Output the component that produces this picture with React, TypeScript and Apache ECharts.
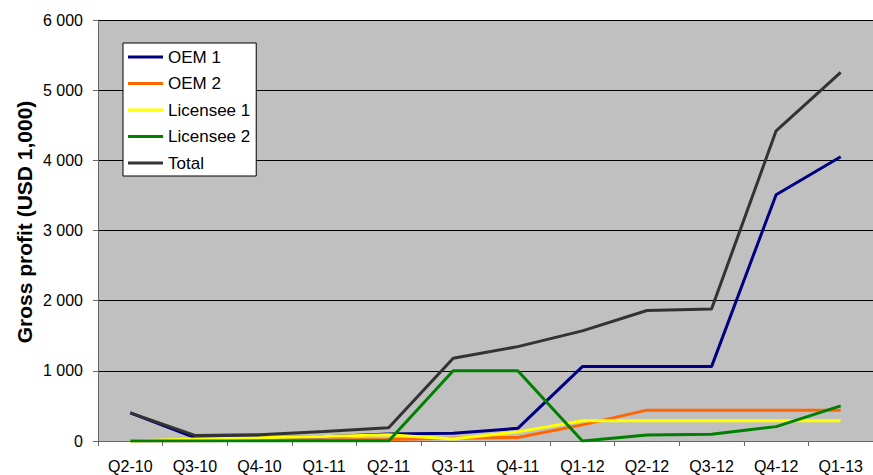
import React, { useEffect, useRef } from "react";
import * as echarts from "echarts";

const categories = ["Q2-10", "Q3-10", "Q4-10", "Q1-11", "Q2-11", "Q3-11", "Q4-11", "Q1-12", "Q2-12", "Q3-12", "Q4-12", "Q1-13"];
const oem1 = [400, 50, 45, 60, 100, 110, 180, 1060, 1060, 1060, 3510, 4050];
const oem2 = [0, 5, 10, 15, 20, 40, 50, 230, 440, 440, 440, 440];
const licensee1 = [0, 30, 45, 65, 90, 30, 130, 290, 290, 290, 290, 290];
const licensee2 = [0, 0, 0, 0, 0, 1000, 1000, 0, 85, 95, 205, 500];
const total = [400, 80, 90, 135, 190, 1180, 1345, 1570, 1860, 1880, 4420, 5255];
const yTicks = { min: 0, max: 6000, interval: 1000 };
const yTitle = "Gross profit (USD 1,000)";

export default function App() {
  const ref = useRef<HTMLDivElement>(null);
  useEffect(() => {
    if (!ref.current) return;
    const chart = echarts.init(ref.current, null, { renderer: "svg" });
    const mk = (name: string, data: number[], color: string) => ({
      name,
      type: "line",
      data,
      symbol: "none",
      lineStyle: { color, width: 3 },
      itemStyle: { color },
    });
    chart.setOption({
      animation: false,
      backgroundColor: "#ffffff",
      textStyle: { fontFamily: "Liberation Sans, Arial, sans-serif" },
      grid: {
        left: 98,
        top: 20,
        right: -5,
        bottom: 34,
        show: true,
        backgroundColor: "#C0C0C0",
        borderWidth: 0,
      },
      graphic: [
        {
          type: "text",
          x: 24,
          y: 222,
          rotation: Math.PI / 2,
          style: {
            text: yTitle,
            fontSize: 21,
            fontWeight: "bold",
            fontFamily: "Liberation Sans, Arial, sans-serif",
            fill: "#000",
            align: "center",
            verticalAlign: "middle",
          },
        },
      ],
      legend: {
        orient: "vertical",
        left: 123,
        top: 43,
        backgroundColor: "#ffffff",
        borderColor: "#000000",
        borderWidth: 1,
        borderRadius: 0,
        padding: [5, 6, 4, 5],
        itemWidth: 35,
        itemHeight: 3,
        itemGap: 8.5,
        icon: "rect",
        textStyle: { fontSize: 17, color: "#000", lineHeight: 18, fontFamily: "Liberation Sans, Arial, sans-serif" },
        data: ["OEM 1", "OEM 2", "Licensee 1", "Licensee 2", "Total"],
      },
      xAxis: {
        type: "category",
        data: categories,
        boundaryGap: true,
        axisLine: { lineStyle: { color: "#666666", width: 1 } },
        axisTick: { show: true, length: 5, lineStyle: { color: "#666666" } },
        axisLabel: { fontSize: 16, color: "#000", margin: 17 },
        splitLine: { show: false },
      },
      yAxis: {
        type: "value",
        min: yTicks.min,
        max: yTicks.max,
        interval: yTicks.interval,
        axisLine: { show: true, lineStyle: { color: "#666666", width: 1 } },
        axisTick: { show: true, length: 5, lineStyle: { color: "#666666" } },
        axisLabel: {
          fontSize: 16,
          color: "#000",
          margin: 15,
          formatter: (v: number) => String(v).replace(/\B(?=(\d{3})+(?!\d))/g, " "),
        },
        splitLine: { show: true, lineStyle: { color: "#000000", width: 1 } },
      },
      series: [
        mk("OEM 1", oem1, "#000080"),
        mk("OEM 2", oem2, "#FF6600"),
        mk("Licensee 1", licensee1, "#FFFF00"),
        mk("Licensee 2", licensee2, "#008000"),
        mk("Total", total, "#333333"),
      ],
    });
    return () => chart.dispose();
  }, []);
  return <div ref={ref} style={{ position: "fixed", left: 0, top: 0, width: 873, height: 475 }} />;
}
